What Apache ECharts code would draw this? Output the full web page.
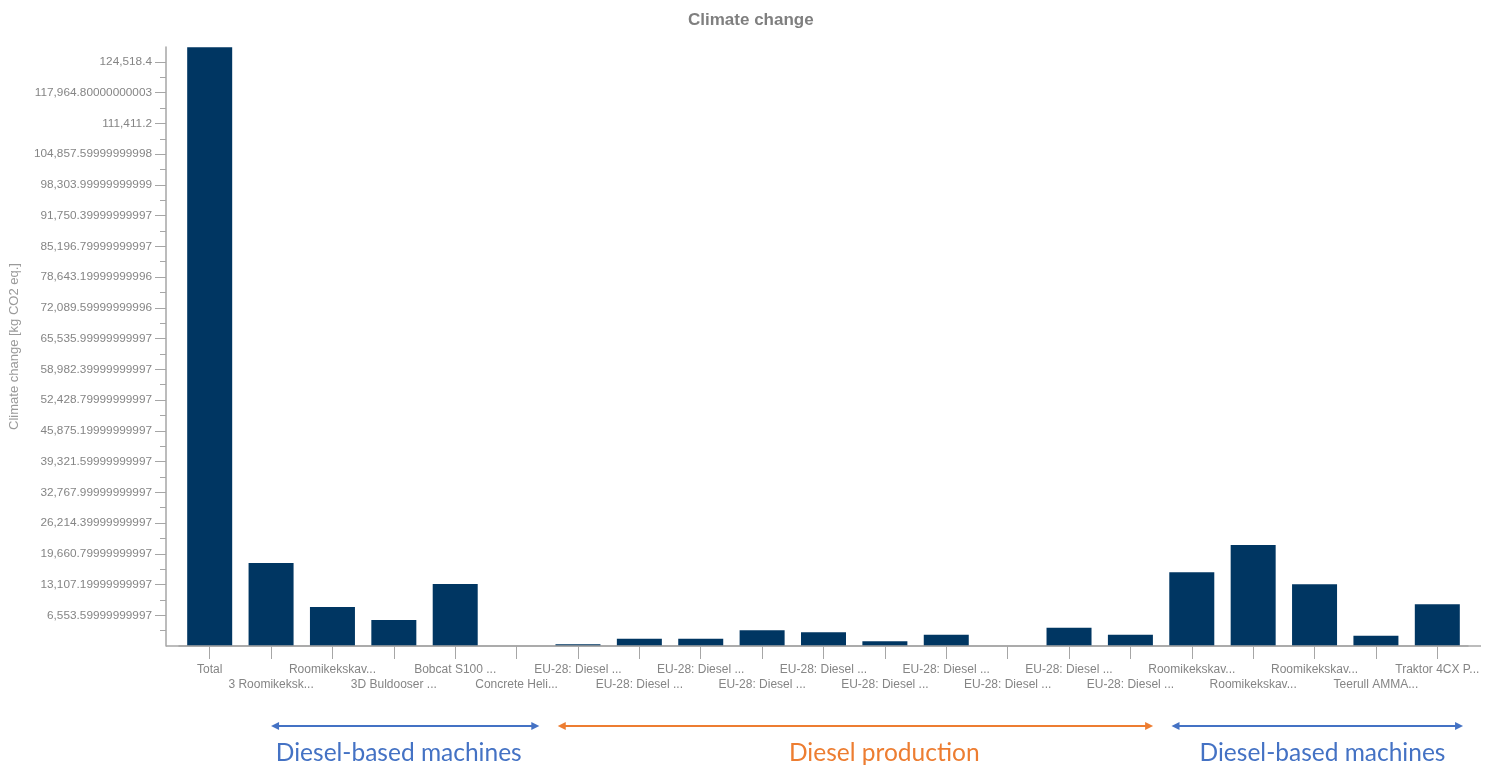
<!DOCTYPE html>
<html><head><meta charset="utf-8">
<script src="https://cdn.jsdelivr.net/npm/echarts@6/dist/echarts.min.js"></script>
<style>html,body{margin:0;padding:0;background:#fff}#c{width:1501px;height:766px}</style>
</head><body><div id="c"></div>
<script>
const categories = [
  "Total", "3 Roomikeksk...", "Roomikekskav...", "3D Buldooser ...", "Bobcat S100 ...", "Concrete Heli...",
  "EU-28: Diesel ...", "EU-28: Diesel ...", "EU-28: Diesel ...", "EU-28: Diesel ...", "EU-28: Diesel ...",
  "EU-28: Diesel ...", "EU-28: Diesel ...", "EU-28: Diesel ...", "EU-28: Diesel ...", "EU-28: Diesel ...",
  "Roomikekskav...", "Roomikekskav...", "Roomikekskav...", "Teerull AMMA...", "Traktor 4CX P..."
];
const values = [
  127660, 17690, 8310, 5540, 13210, 0,
  360, 1560, 1560, 3350, 2920,
  1000, 2410, 0, 3900, 2410,
  15710, 21530, 13150, 2200, 8890
];
const yTickValues = [
  6553.6, 13107.2, 19660.8, 26214.4, 32768, 39321.6, 45875.2, 52428.8, 58982.4, 65536,
  72089.6, 78643.2, 85196.8, 91750.4, 98304, 104857.6, 111411.2, 117964.8, 124518.4
];
const yTickLabels = [
  "6,553.59999999997", "13,107.19999999997", "19,660.79999999997", "26,214.39999999997",
  "32,767.99999999997", "39,321.59999999997", "45,875.19999999997", "52,428.79999999997",
  "58,982.39999999997", "65,535.99999999997", "72,089.59999999996", "78,643.19999999996",
  "85,196.79999999997", "91,750.39999999997", "98,303.99999999999", "104,857.59999999998",
  "111,411.2", "117,964.80000000003", "124,518.4"
];
const yMax = 127700;
const groups = [
  { name: "Diesel-based machines", color: "#4472C4", from: 1.0, to: 5.37, textAt: 3.08 },
  { name: "Diesel production", color: "#ED7D31", from: 5.67, to: 15.37, textAt: 10.99 },
  { name: "Diesel-based machines", color: "#4472C4", from: 15.67, to: 20.42, textAt: 18.13 }
];

const minorTicks = [0].concat(yTickValues).slice(0, -1).map((v, i) => (v + yTickValues[i]) / 2);
const gridLeft = 179, gridRight = 33, gridTop = 47, gridBottom = 120, ext = 13;
const axisGray = '#a6a6a6', labelGray = '#858585';
const FONT = 'Liberation Sans, Arial, sans-serif';

const chart = echarts.init(document.getElementById('c'), null, { renderer: 'canvas' });
const yBase = {
  type: 'value', position: 'left', min: 0, max: yMax, interval: 6553.6, offset: ext,
  splitLine: { show: false }
};
chart.setOption({
  animation: false,
  backgroundColor: '#fff',
  textStyle: { fontFamily: FONT },
  title: {
    text: 'Climate change', left: 683, top: 7,
    textStyle: { fontSize: 17, fontWeight: 'bold', color: '#7f7f7f', fontFamily: FONT }
  },
  grid: { left: gridLeft, right: gridRight, top: gridTop, bottom: gridBottom, containLabel: false },
  xAxis: {
    type: 'category', data: categories,
    axisLine: { show: true, lineStyle: { color: axisGray, width: 1.5 } },
    axisTick: { show: true, interval: 0, alignWithLabel: true, length: 13, lineStyle: { color: axisGray } },
    axisLabel: {
      interval: 0, color: labelGray, fontSize: 12, lineHeight: 15, margin: 16,
      formatter: (v, i) => (i % 2 ? '\n' + v : v)
    }
  },
  yAxis: [
    Object.assign({}, yBase, {
      name: 'Climate change [kg CO2 eq.]', nameLocation: 'middle', nameGap: 145, nameRotate: 90,
      nameTextStyle: { color: '#9a9a9a', fontSize: 13 },
      axisLine: { show: true, lineStyle: { color: axisGray, width: 1.5 } },
      axisTick: { show: true, length: 11, lineStyle: { color: axisGray }, customValues: yTickValues },
      axisLabel: {
        color: labelGray, fontSize: 11.8, margin: 14, customValues: yTickValues,
        formatter: (val) => {
          const i = yTickValues.findIndex(t => Math.abs(t - val) < 1e-3);
          return i >= 0 ? yTickLabels[i] : '';
        }
      }
    }),
    Object.assign({}, yBase, {
      axisLine: { show: false },
      axisTick: { show: true, length: 6, lineStyle: { color: axisGray }, customValues: minorTicks },
      axisLabel: { show: false }
    })
  ],
  series: [{
    type: 'bar', data: values, yAxisIndex: 0, barWidth: 45,
    itemStyle: { color: '#003662' }
  }]
});

function center(pos) {
  const p0 = chart.convertToPixel({ xAxisIndex: 0 }, 0);
  const p1 = chart.convertToPixel({ xAxisIndex: 0 }, 1);
  return p0 + (p1 - p0) * pos;
}
const axisY = 766 - gridBottom;
const graphics = [
  { type: 'line', shape: { x1: gridLeft - ext, y1: axisY, x2: 1501 - gridRight + ext, y2: axisY },
    style: { stroke: axisGray, lineWidth: 1.5 }, z: 10 }
];
const arrowY = 726, textY = 753;
groups.forEach(g => {
  const x1 = center(g.from), x2 = center(g.to);
  graphics.push({ type: 'line', shape: { x1: x1 + 4, y1: arrowY, x2: x2 - 4, y2: arrowY },
    style: { stroke: g.color, lineWidth: 2 } });
  graphics.push({ type: 'polygon', shape: { points: [[x1, arrowY], [x1 + 8, arrowY - 4], [x1 + 8, arrowY + 4]] },
    style: { fill: g.color } });
  graphics.push({ type: 'polygon', shape: { points: [[x2, arrowY], [x2 - 8, arrowY - 4], [x2 - 8, arrowY + 4]] },
    style: { fill: g.color } });
  graphics.push({ type: 'text', x: center(g.textAt), y: textY,
    style: { text: g.name, fill: g.color, font: '24.5px Lato, "Open Sans", sans-serif', textAlign: 'center', textVerticalAlign: 'middle' } });
});
chart.setOption({ graphic: graphics });
</script>
</body></html>
